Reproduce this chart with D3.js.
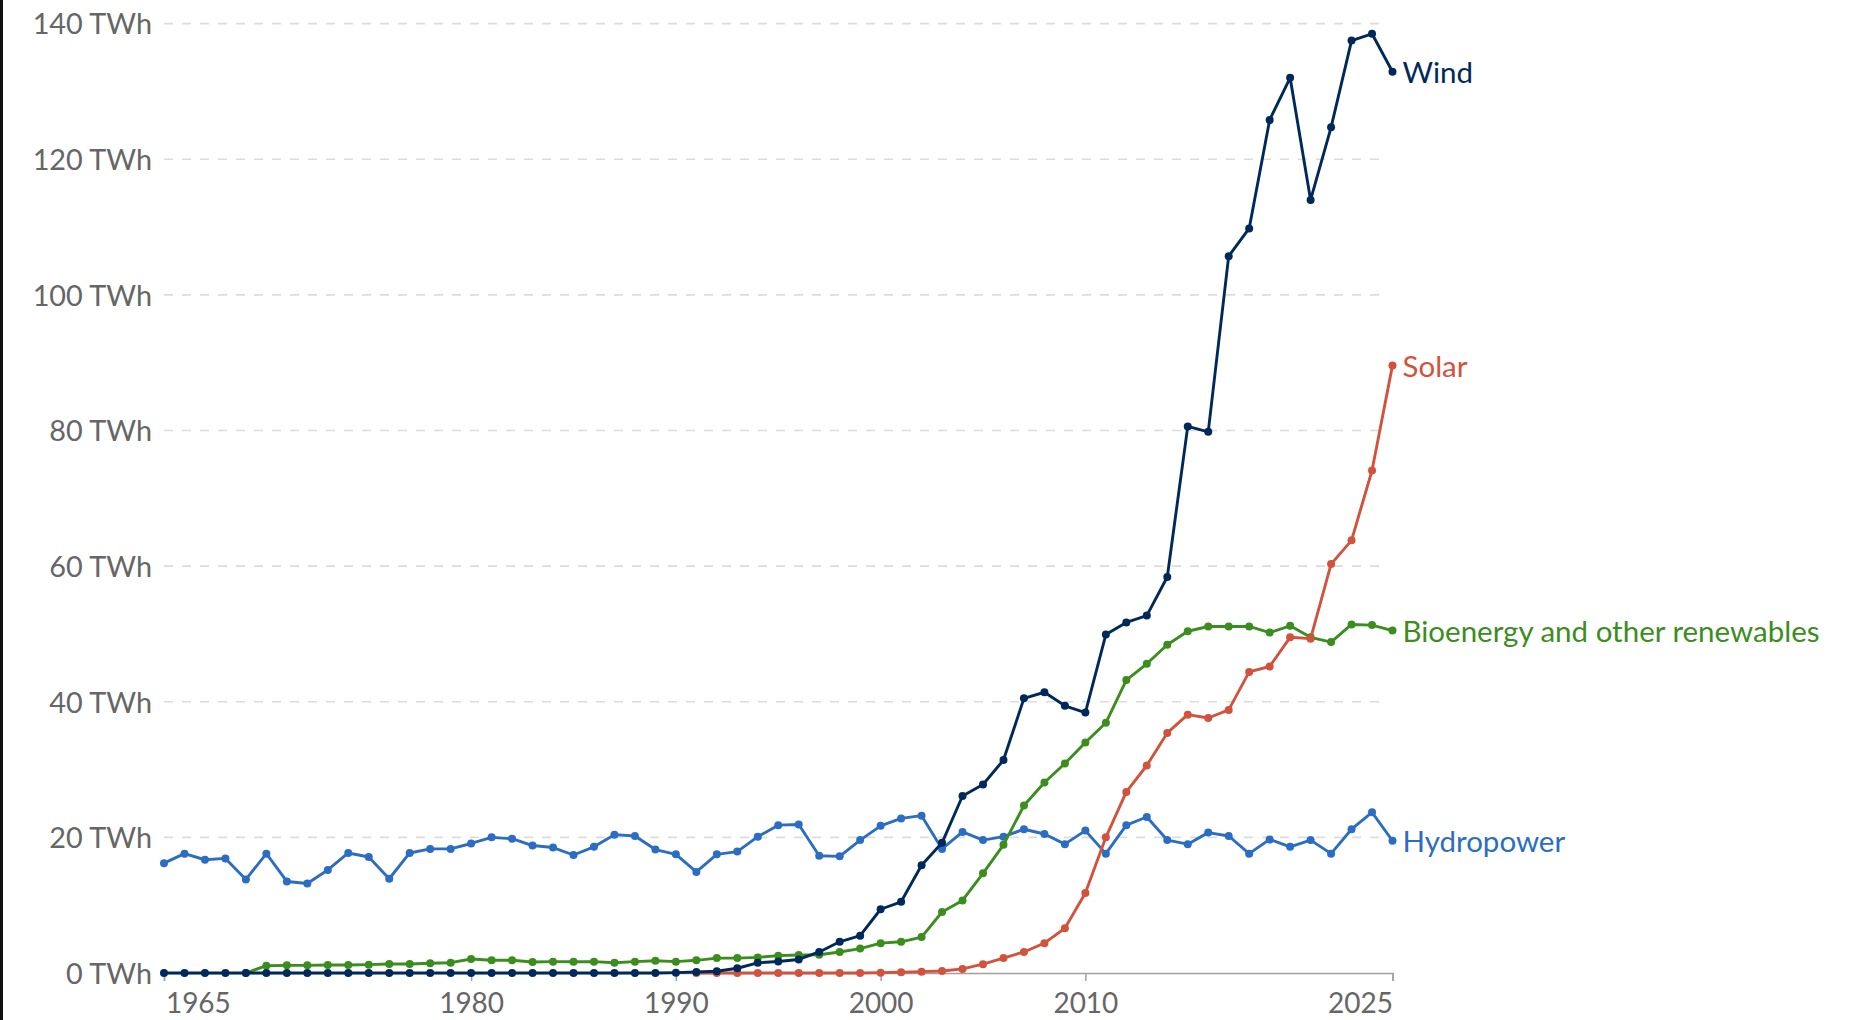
<!DOCTYPE html>
<html>
<head>
<meta charset="utf-8">
<script src="https://cdn.jsdelivr.net/npm/d3@7"></script>
<style>
  html, body { margin: 0; padding: 0; background: #fff; }
  svg { display: block; font-family: Lato, "Noto Sans", sans-serif; }
</style>
</head>
<body>
<svg id="chart" width="1852" height="1020"></svg>
<script>
// ---- Data (TWh) ----
const windYears = d3.range(1965, 2026);
const windValues = [
  0,0,0,0,0,0,0,0,0,0,            // 1965-1974
  0,0,0,0,0,0,0,0,0,0,            // 1975-1984
  0,0,0,0,0,0.05,0.15,0.25,0.7,1.5, // 1985-1994
  1.7,2.0,3.1,4.6,5.5,9.4,10.5,15.9,19.2,26.1, // 1995-2004
  27.8,31.4,40.5,41.4,39.4,38.4,49.9,51.7,52.7,58.4, // 2005-2014
  80.6,79.8,105.7,109.8,125.8,132.0,114.0,124.7,137.5,138.5, // 2015-2024
  132.9 // 2025
];

const solarYears = d3.range(1991, 2026);
const solarValues = [
  0,0,0,0,0,0,0,0,0,0.05,          // 1991-2000
  0.1,0.2,0.3,0.6,1.3,2.2,3.1,4.4,6.6,11.8, // 2001-2010
  20.0,26.7,30.6,35.4,38.1,37.6,38.8,44.4,45.2,49.5, // 2011-2020
  49.3,60.3,63.8,74.1,89.6 // 2021-2025
];

const bioYears = d3.range(1969, 2026);
const bioValues = [
  0,                               // 1969
  1.08,1.13,1.13,1.18,1.18,1.23,1.33,1.33,1.43,1.52, // 1970-1979
  2.06,1.87,1.87,1.62,1.67,1.67,1.67,1.52,1.67,1.8,  // 1980-1989
  1.67,1.87,2.2,2.2,2.3,2.56,2.65,2.7,3.1,3.6,       // 1990-1999
  4.4,4.6,5.3,9.0,10.7,14.7,18.9,24.7,28.1,30.9,     // 2000-2009
  34.0,36.9,43.2,45.6,48.4,50.4,51.1,51.1,51.1,50.2, // 2010-2019
  51.2,49.5,48.8,51.4,51.3,50.5                      // 2020-2025
];

const hydroYears = d3.range(1965, 2026);
const hydroValues = [
  16.2,17.6,16.7,16.9,13.8,17.6,13.5,13.2,15.2,17.7, // 1965-1974
  17.1,13.9,17.7,18.3,18.3,19.1,20.0,19.8,18.8,18.5, // 1975-1984
  17.4,18.6,20.4,20.2,18.2,17.5,14.9,17.5,17.9,20.1, // 1985-1994
  21.8,21.9,17.3,17.2,19.6,21.7,22.8,23.2,18.3,20.8, // 1995-2004
  19.6,20.1,21.2,20.5,19.0,21.0,17.6,21.8,23.0,19.6, // 2005-2014
  19.0,20.7,20.2,17.6,19.7,18.6,19.6,17.6,21.2,23.7, // 2015-2024
  19.5 // 2025
];

const seriesNames = ["Hydropower", "Bioenergy and other renewables", "Solar", "Wind"];
const seriesColors = ["#2C6DC4", "#3B8E1D", "#D2533D", "#00295B"];
const yTicks = [0, 20, 40, 60, 80, 100, 120, 140];
const xTicks = [1965, 1980, 1990, 2000, 2010, 2025];

const series = [
  { name: seriesNames[0], color: seriesColors[0], years: hydroYears, values: hydroValues },
  { name: seriesNames[1], color: seriesColors[1], years: bioYears, values: bioValues },
  { name: seriesNames[2], color: seriesColors[2], years: solarYears, values: solarValues },
  { name: seriesNames[3], color: seriesColors[3], years: windYears, values: windValues }
].map(s => ({ ...s, points: s.years.map((y, i) => ({ year: y, value: s.values[i] })) }));

// ---- Layout ----
const svg = d3.select("#chart");
const x = d3.scaleLinear().domain([1965, 2025]).range([164, 1392.5]);
const y = d3.scaleLinear().domain([0, 140]).range([973, 23.6]);
const textColor = "#666";

svg.append("rect").attr("width", 1852).attr("height", 1020).attr("fill", "#fff");
// left border line seen in reference
svg.append("rect").attr("x", 0).attr("y", 0).attr("width", 3).attr("height", 1020).attr("fill", "#111");

// Gridlines
svg.append("g")
  .selectAll("line")
  .data(yTicks.filter(d => d > 0))
  .join("line")
  .attr("x1", x(1965)).attr("x2", 1385)
  .attr("y1", d => y(d)).attr("y2", d => y(d))
  .attr("stroke", "#dcdcdc")
  .attr("stroke-width", 1.6)
  .attr("stroke-dasharray", "9,9");

// Y axis labels
const yAxis = d3.axisLeft(y).tickValues(yTicks).tickSize(0).tickPadding(12)
  .tickFormat(d => d + " TWh");
const gy = svg.append("g").attr("transform", `translate(${x(1965)},0)`).call(yAxis);
gy.select(".domain").remove();
gy.selectAll("text")
  .attr("fill", textColor)
  .style("font-family", "Lato, sans-serif")
  .style("font-size", "28.8px")
  .attr("dy", "0.36em");

// X axis
const xAxis = d3.axisBottom(x).tickValues(xTicks).tickSize(8).tickPadding(12)
  .tickFormat(d3.format("d"));
const gx = svg.append("g").attr("transform", `translate(0,${y(0)})`).call(xAxis);
gx.select(".domain").attr("stroke", "#a0a0a0").attr("stroke-width", 1.5);
gx.selectAll(".tick line").attr("stroke", "#a0a0a0").attr("stroke-width", 1.5);
gx.selectAll("text")
  .attr("fill", textColor)
  .style("font-family", "Lato, sans-serif")
  .style("font-size", "28px")
  .attr("text-anchor", d => d === 1965 ? "start" : (d === 2025 ? "end" : "middle"))
  .attr("dx", d => d === 1965 ? "0.05em" : "0");

// Lines
const line = d3.line().x(d => x(d.year)).y(d => y(d.value));
const gs = svg.append("g").selectAll("g").data(series).join("g");
gs.append("path")
  .attr("d", d => line(d.points))
  .attr("fill", "none")
  .attr("stroke", d => d.color)
  .attr("stroke-width", 2.9)
  .attr("stroke-linejoin", "round");
gs.each(function(s) {
  d3.select(this).selectAll("circle")
    .data(s.points)
    .join("circle")
    .attr("cx", d => x(d.year))
    .attr("cy", d => y(d.value))
    .attr("r", 4)
    .attr("fill", s.color);
});

// End labels
gs.append("text")
  .attr("x", d => x(d.points[d.points.length - 1].year) + 10)
  .attr("y", d => y(d.points[d.points.length - 1].value))
  .attr("dy", "0.38em")
  .attr("fill", d => d.color)
  .style("font-family", "Lato, sans-serif")
  .style("font-size", "29.5px")
  .text(d => d.name);
</script>
</body>
</html>
